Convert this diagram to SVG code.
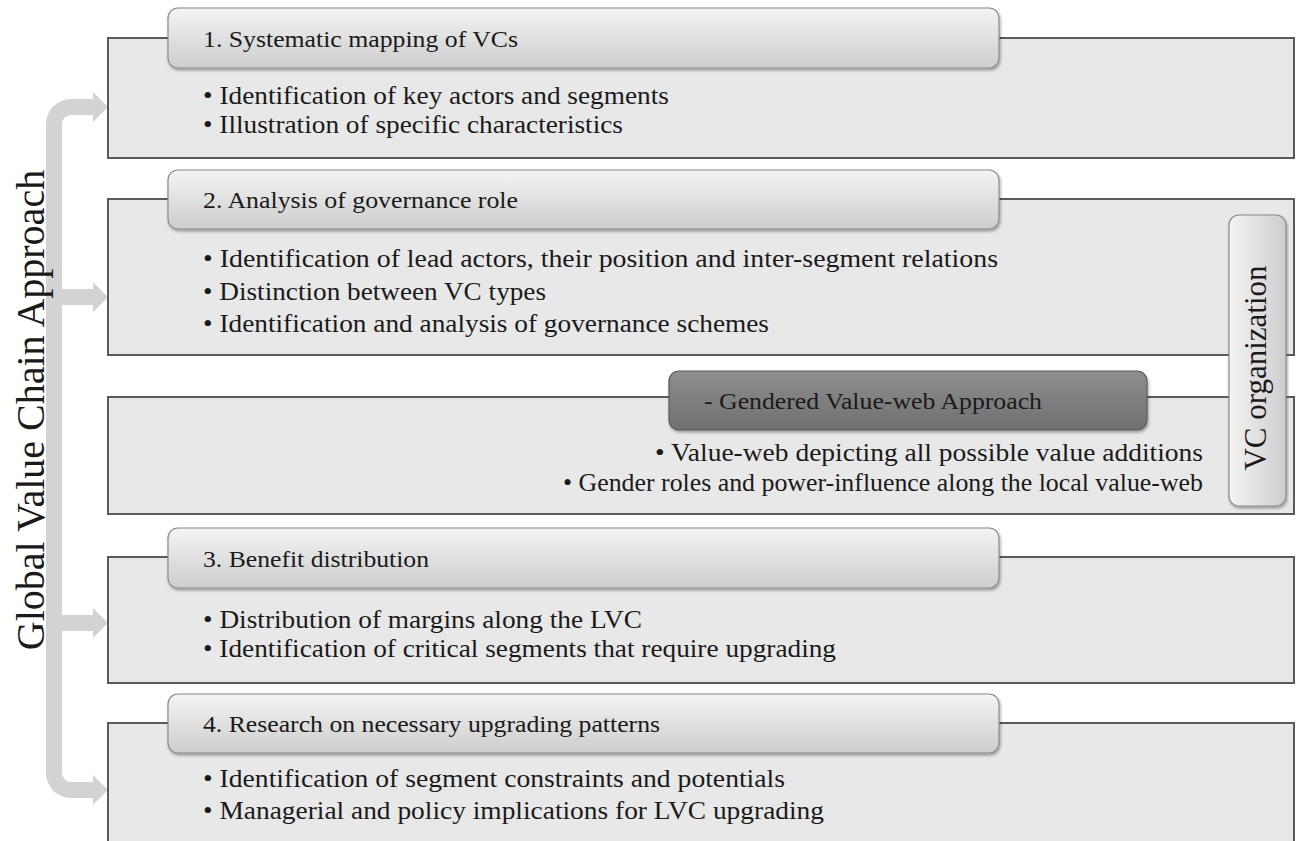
<svg xmlns="http://www.w3.org/2000/svg" width="1296" height="841" viewBox="0 0 1296 841">
<defs>
<linearGradient id="tabg" x1="0" y1="0" x2="0" y2="1">
<stop offset="0" stop-color="#f4f4f4"/>
<stop offset="1" stop-color="#cdcdcd"/>
</linearGradient>
<linearGradient id="darkg" x1="0" y1="0" x2="0" y2="1">
<stop offset="0" stop-color="#8e8e8e"/>
<stop offset="1" stop-color="#707070"/>
</linearGradient>
<linearGradient id="vcg" x1="0" y1="0" x2="1" y2="0">
<stop offset="0" stop-color="#f4f4f4"/>
<stop offset="1" stop-color="#cdcdcd"/>
</linearGradient>
<filter id="sh" x="-5%" y="-20%" width="110%" height="150%">
<feDropShadow dx="1" dy="2" stdDeviation="1.5" flood-color="#000" flood-opacity="0.35"/>
</filter>
<style>
.box{fill:#e8e8e8;stroke:#5a5a5a;stroke-width:2}
.tab{fill:url(#tabg);stroke:#8a8a8a;stroke-width:1.2;filter:url(#sh)}
.dtab{fill:url(#darkg);stroke:#5a5a5a;stroke-width:1.2;filter:url(#sh)}
.vtab{fill:url(#vcg);stroke:#8a8a8a;stroke-width:1.2;filter:url(#sh)}
.t{font-family:"Liberation Serif","Times New Roman",serif;font-size:24px;fill:#1a1a1a}
.b{font-family:"Liberation Serif","Times New Roman",serif;font-size:25px;fill:#1a1a1a}
.big{font-family:"Liberation Serif","Times New Roman",serif;fill:#1a1a1a}
.arrow{fill:#d3d3d3}
</style>
</defs>
<rect width="1296" height="841" fill="#ffffff"/>

<g id="connectors">
<path class="arrow" d="M93 99 L71 99 A25 25 0 0 0 46 124 L46 773 A25 25 0 0 0 71 798 L93 798 L93 805 L108 790 L93 775 L93 782 L71 782 A9 9 0 0 1 62 773 L62 631 L93 631 L93 638 L108 623 L93 608 L93 615 L62 615 L62 305 L93 305 L93 312 L108 297 L93 282 L93 289 L62 289 L62 124 A9 9 0 0 1 71 115 L93 115 L93 122 L108 107 L93 92 Z"/>
</g>

<g id="label-gvca">
<text class="big" style="font-size:40px" transform="translate(44 410) rotate(-90)" text-anchor="middle">Global Value Chain Approach</text>
</g>

<g id="node1">
<rect class="box" x="108" y="38" width="1186" height="120"/>
<rect class="tab" x="168" y="8" width="831" height="60" rx="10"/>
<text class="t" x="203" y="47" textLength="315" lengthAdjust="spacingAndGlyphs">1. Systematic mapping of VCs</text>
<text class="b" x="203" y="104" textLength="466" lengthAdjust="spacingAndGlyphs">• Identification of key actors and segments</text>
<text class="b" x="203" y="133" textLength="420" lengthAdjust="spacingAndGlyphs">• Illustration of specific characteristics</text>
</g>

<g id="node2">
<rect class="box" x="108" y="199" width="1186" height="156"/>
<rect class="tab" x="168" y="170" width="831" height="59" rx="10"/>
<text class="t" x="203" y="208" textLength="315" lengthAdjust="spacingAndGlyphs">2. Analysis of governance role</text>
<text class="b" x="203" y="267" textLength="795" lengthAdjust="spacingAndGlyphs">• Identification of lead actors, their position and inter-segment relations</text>
<text class="b" x="203" y="300" textLength="343" lengthAdjust="spacingAndGlyphs">• Distinction between VC types</text>
<text class="b" x="203" y="332" textLength="566" lengthAdjust="spacingAndGlyphs">• Identification and analysis of governance schemes</text>
</g>

<g id="node-gendered">
<rect class="box" x="108" y="397" width="1186" height="117"/>
<rect class="dtab" x="669" y="371" width="478" height="59" rx="10"/>
<text class="t" x="704" y="409" textLength="338" lengthAdjust="spacingAndGlyphs">- Gendered Value-web Approach</text>
<text class="b" x="655" y="461" textLength="548" lengthAdjust="spacingAndGlyphs">• Value-web depicting all possible value additions</text>
<text class="b" x="563" y="491" textLength="640" lengthAdjust="spacingAndGlyphs">• Gender roles and power-influence along the local value-web</text>
</g>

<g id="node3">
<rect class="box" x="108" y="557" width="1186" height="126"/>
<rect class="tab" x="168" y="528" width="831" height="60" rx="10"/>
<text class="t" x="203" y="567" textLength="226" lengthAdjust="spacingAndGlyphs">3. Benefit distribution</text>
<text class="b" x="203" y="628" textLength="439" lengthAdjust="spacingAndGlyphs">• Distribution of margins along the LVC</text>
<text class="b" x="203" y="657" textLength="633" lengthAdjust="spacingAndGlyphs">• Identification of critical segments that require upgrading</text>
</g>

<g id="node4">
<rect class="box" x="108" y="723" width="1186" height="130"/>
<rect class="tab" x="168" y="694" width="831" height="59" rx="10"/>
<text class="t" x="203" y="732" textLength="457" lengthAdjust="spacingAndGlyphs">4. Research on necessary upgrading patterns</text>
<text class="b" x="203" y="787" textLength="582" lengthAdjust="spacingAndGlyphs">• Identification of segment constraints and potentials</text>
<text class="b" x="203" y="819" textLength="621" lengthAdjust="spacingAndGlyphs">• Managerial and policy implications for LVC upgrading</text>
</g>

<g id="node-vc">
<rect class="vtab" x="1229" y="215" width="57" height="291" rx="10"/>
<text class="big" style="font-size:31px" transform="translate(1266 368) rotate(-90)" text-anchor="middle">VC organization</text>
</g>
</svg>
